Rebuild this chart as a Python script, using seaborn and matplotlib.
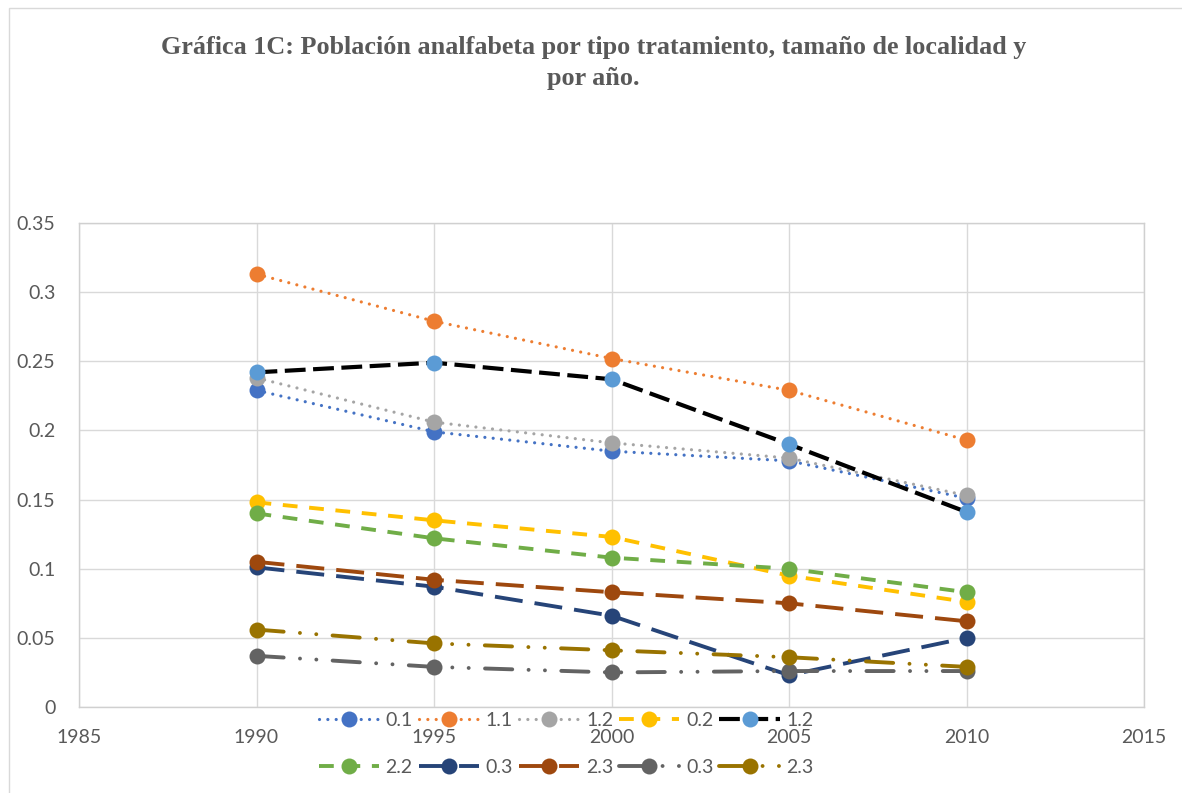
import matplotlib
matplotlib.use('Agg')
import matplotlib.pyplot as plt
from matplotlib.patches import Rectangle
import seaborn as sns
import pandas as pd

# Data
years = [1990, 1995, 2000, 2005, 2010]
labels = ['0.1', '1.1', '1.2', '0.2', '1.2', '2.2', '0.3', '2.3', '0.3', '2.3']
values = [
    [0.229, 0.199, 0.185, 0.178, 0.151],   # 0.1
    [0.313, 0.279, 0.252, 0.229, 0.193],   # 1.1
    [0.238, 0.206, 0.191, 0.180, 0.153],   # 1.2
    [0.148, 0.135, 0.123, 0.095, 0.076],   # 0.2
    [0.242, 0.249, 0.237, 0.190, 0.141],   # 1.2
    [0.140, 0.122, 0.108, 0.100, 0.083],   # 2.2
    [0.101, 0.087, 0.066, 0.023, 0.050],   # 0.3
    [0.105, 0.092, 0.083, 0.075, 0.062],   # 2.3
    [0.037, 0.029, 0.025, 0.026, 0.026],   # 0.3
    [0.056, 0.046, 0.041, 0.036, 0.029],   # 2.3
]
xticks = [1985, 1990, 1995, 2000, 2005, 2010, 2015]
yticks = [0, 0.05, 0.1, 0.15, 0.2, 0.25, 0.3, 0.35]
ytick_labels = ['0', '0.05', '0.1', '0.15', '0.2', '0.25', '0.3', '0.35']

title = 'Gráfica 1C: Población analfabeta por tipo tratamiento, tamaño de localidad y\npor año.'

# styles per series: line colour, marker colour, dash pattern, linewidth, capstyle
dot = (0, (0.01, 2.6))
dash = (0, (3.8, 3.0))
bdash = (0, (5.0, 1.8))
ldash = (0, (7.2, 3.1))
ddot = (0, (7.0, 4.2, 0.01, 4.2, 0.01, 4.2))
styles = [
    ('#4472C4', '#4472C4', dot, 2.3, 'round'),
    ('#ED7D31', '#ED7D31', dot, 2.3, 'round'),
    ('#A5A5A5', '#A5A5A5', dot, 2.3, 'round'),
    ('#FFC000', '#FFC000', dash, 2.8, 'butt'),
    ('#000000', '#5B9BD5', bdash, 3.0, 'butt'),
    ('#70AD47', '#70AD47', dash, 2.8, 'butt'),
    ('#264478', '#264478', ldash, 2.8, 'butt'),
    ('#9E480E', '#9E480E', ldash, 2.8, 'butt'),
    ('#636363', '#636363', ddot, 2.8, 'round'),
    ('#997300', '#997300', ddot, 2.8, 'round'),
]

sns.set_style('white')
plt.rcParams['font.family'] = ['Lato', 'DejaVu Sans']

fig = plt.figure(figsize=(11.82, 7.93), dpi=100)
ax = fig.add_axes([79 / 1182, 86 / 793, (1144 - 79) / 1182, (707 - 223) / 793])

for i, (lab, vals) in enumerate(zip(labels, values)):
    lc, mc, ls, lw, cap = styles[i]
    df = pd.DataFrame({'year': years, 'value': vals})
    sns.lineplot(data=df, x='year', y='value', ax=ax, color=lc, linestyle=ls,
                 linewidth=lw, dash_capstyle=cap, marker='o', markersize=11.5,
                 markerfacecolor=mc, markeredgecolor=mc, markeredgewidth=0,
                 label=lab)

ax.set_xlim(1985, 2015)
ax.set_ylim(0, 0.35)
ax.set_xticks(xticks)
ax.set_yticks(yticks)
ax.set_yticklabels(ytick_labels)
ax.set_xlabel('')
ax.set_ylabel('')
ax.grid(True, color='#d9d9d9', linewidth=1)
ax.set_axisbelow(True)
for s in ax.spines.values():
    s.set_color('#d0d0d0')
    s.set_linewidth(1)
ax.tick_params(axis='both', length=0, labelsize=14, colors='#595959')
ax.tick_params(axis='y', pad=17)
ax.tick_params(axis='x', pad=16)

fig.text(0.502, 0.955, title, ha='center', va='top', fontsize=18.8,
         fontweight='bold', color='#595959', family='Liberation Serif',
         linespacing=1.45)

# legend in two rows, filled row by row
handles, labs = ax.get_legend_handles_labels()
ax.get_legend().remove()
order = [0, 5, 1, 6, 2, 7, 3, 8, 4, 9]
fig.legend([handles[k] for k in order], [labs[k] for k in order],
           loc='center', bbox_to_anchor=(0.479, 0.062), ncol=5, frameon=False,
           fontsize=14, handlelength=3.1, handletextpad=0.35,
           columnspacing=0.3, labelspacing=1.55, labelcolor='#595959')

# outer chart border
fig.add_artist(Rectangle((9 / 1182, -0.1), 1.1, 1.1 - 8 / 793,
                         transform=fig.transFigure, fill=False,
                         edgecolor='#d9d9d9', linewidth=1))

fig.savefig('out.png', dpi=100)
